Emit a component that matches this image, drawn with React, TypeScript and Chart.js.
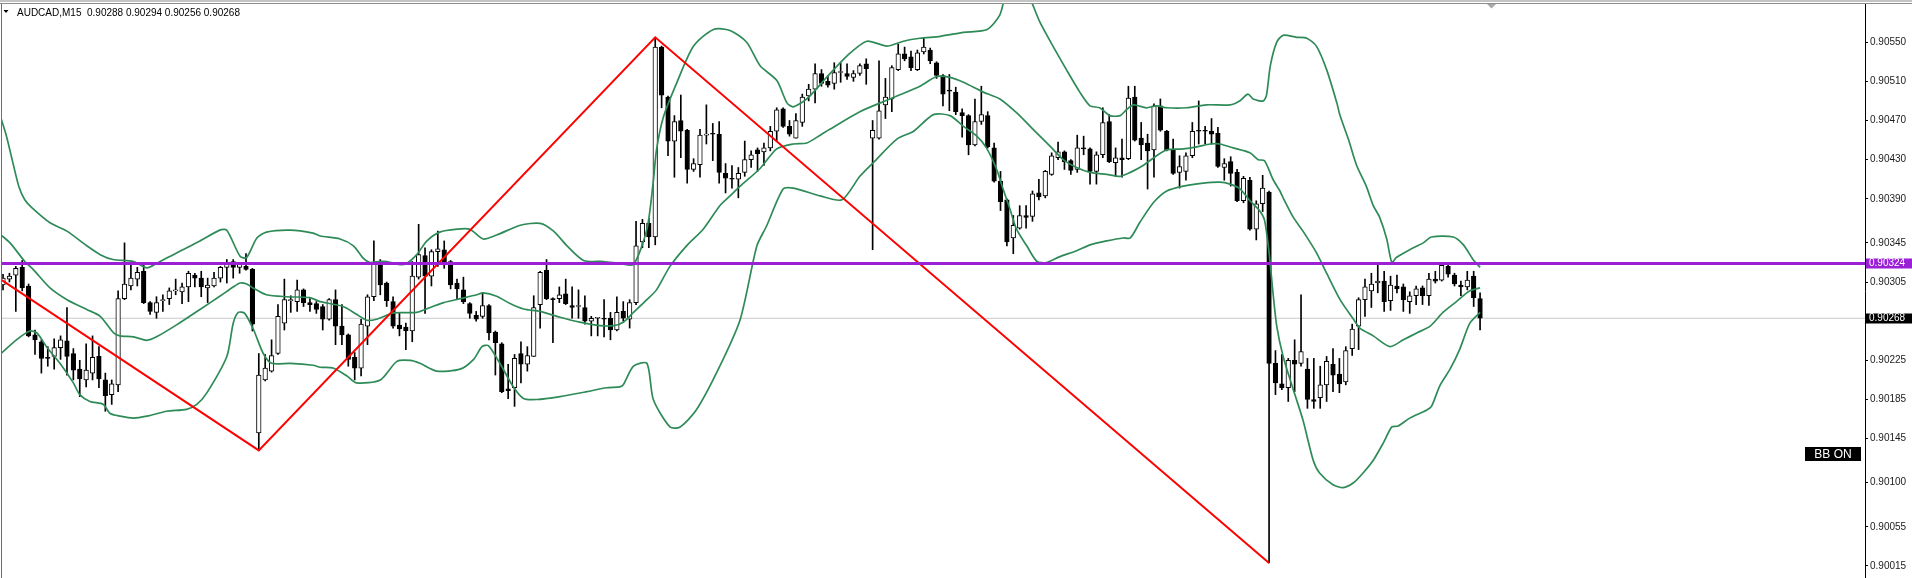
import React, { useEffect, useRef } from 'react';
import { Chart, registerables } from 'chart.js';

Chart.register(...registerables);

const symbolName = 'AUDCAD,M15';

const openPrices = [
0.90302,0.90308,0.90312,0.90320,0.90301,0.90251,0.90244,0.90228,0.90229,0.90238,
0.90245,0.90232,0.90216,0.90205,0.90212,0.90229,0.90205,0.90190,0.90200,0.90288,
0.90301,0.90308,0.90316,0.90284,0.90274,0.90286,0.90288,0.90296,0.90295,0.90300,
0.90312,0.90309,0.90299,0.90301,0.90309,0.90320,0.90326,0.90320,0.90321,0.90318,
0.90151,0.90205,0.90214,0.90232,0.90263,0.90286,0.90285,0.90297,0.90284,0.90283,
0.90280,0.90267,0.90287,0.90260,0.90251,0.90228,0.90217,0.90260,0.90290,0.90323,
0.90304,0.90285,0.90261,0.90259,0.90255,0.90310,0.90332,0.90311,0.90336,0.90338,
0.90326,0.90304,0.90297,0.90283,0.90271,0.90270,0.90281,0.90254,0.90242,0.90196,
0.90197,0.90232,0.90221,0.90229,0.90282,0.90317,0.90288,0.90288,0.90293,0.90281,
0.90280,0.90279,0.90265,0.90268,0.90268,0.90268,0.90256,0.90275,0.90267,0.90284,
0.90346,0.90365,0.90351,0.90545,0.90494,0.90449,0.90470,0.90460,0.90420,0.90425,
0.90455,0.90457,0.90456,0.90416,0.90411,0.90410,0.90417,0.90430,0.90440,0.90438,
0.90442,0.90459,0.90482,0.90464,0.90452,0.90468,0.90495,0.90502,0.90518,0.90510,
0.90508,0.90519,0.90518,0.90514,0.90518,0.90528,0.90452,0.90452,0.90486,0.90492,
0.90522,0.90538,0.90535,0.90522,0.90540,0.90542,0.90529,0.90516,0.90501,0.90499,
0.90478,0.90475,0.90445,0.90469,0.90475,0.90442,0.90408,0.90389,0.90350,0.90360,
0.90373,0.90372,0.90396,0.90393,0.90415,0.90432,0.90438,0.90429,0.90420,0.90442,
0.90441,0.90418,0.90435,0.90469,0.90427,0.90432,0.90431,0.90494,0.90452,0.90447,
0.90440,0.90485,0.90459,0.90440,0.90417,0.90418,0.90434,0.90460,0.90460,0.90459,
0.90457,0.90422,0.90428,0.90417,0.90388,0.90409,0.90359,0.90385,0.90397,0.90222,
0.90201,0.90197,0.90225,0.90222,0.90216,0.90185,0.90187,0.90200,0.90221,0.90211,
0.90203,0.90237,0.90260,0.90287,0.90296,0.90304,0.90306,0.90286,0.90301,0.90300,
0.90285,0.90291,0.90299,0.90291,0.90308,0.90307,0.90321,0.90312,0.90302,0.90300,
0.90311,0.90288];

const highPrices = [
0.90313,0.90314,0.90321,0.90327,0.90303,0.90256,0.90246,0.90239,0.90247,0.90250,
0.90279,0.90237,0.90225,0.90242,0.90250,0.90239,0.90212,0.90205,0.90296,0.90345,
0.90323,0.90320,0.90323,0.90285,0.90290,0.90292,0.90299,0.90308,0.90304,0.90316,
0.90314,0.90316,0.90309,0.90315,0.90321,0.90328,0.90328,0.90325,0.90334,0.90319,
0.90232,0.90231,0.90246,0.90282,0.90308,0.90291,0.90307,0.90298,0.90288,0.90285,
0.90282,0.90288,0.90297,0.90282,0.90252,0.90233,0.90267,0.90292,0.90347,0.90328,
0.90305,0.90290,0.90273,0.90263,0.90326,0.90364,0.90340,0.90338,0.90357,0.90347,
0.90327,0.90308,0.90310,0.90284,0.90275,0.90294,0.90282,0.90255,0.90243,0.90221,
0.90231,0.90244,0.90239,0.90291,0.90316,0.90328,0.90289,0.90300,0.90308,0.90300,
0.90297,0.90291,0.90270,0.90269,0.90287,0.90274,0.90290,0.90285,0.90287,0.90367,
0.90369,0.90370,0.90555,0.90546,0.90495,0.90475,0.90496,0.90461,0.90431,0.90461,
0.90486,0.90467,0.90469,0.90426,0.90424,0.90422,0.90449,0.90439,0.90442,0.90447,
0.90464,0.90483,0.90483,0.90470,0.90477,0.90497,0.90507,0.90528,0.90522,0.90516,
0.90529,0.90529,0.90528,0.90521,0.90528,0.90533,0.90470,0.90531,0.90513,0.90526,
0.90548,0.90545,0.90541,0.90542,0.90554,0.90544,0.90530,0.90517,0.90517,0.90504,
0.90482,0.90476,0.90492,0.90505,0.90479,0.90447,0.90418,0.90390,0.90373,0.90383,
0.90383,0.90398,0.90410,0.90419,0.90437,0.90448,0.90439,0.90430,0.90455,0.90454,
0.90442,0.90438,0.90483,0.90476,0.90442,0.90451,0.90505,0.90505,0.90468,0.90456,
0.90487,0.90492,0.90460,0.90451,0.90434,0.90437,0.90468,0.90490,0.90464,0.90472,
0.90463,0.90431,0.90433,0.90420,0.90413,0.90412,0.90388,0.90414,0.90398,0.90235,
0.90231,0.90227,0.90246,0.90292,0.90227,0.90227,0.90219,0.90229,0.90237,0.90227,
0.90239,0.90262,0.90289,0.90308,0.90314,0.90323,0.90316,0.90311,0.90312,0.90303,
0.90295,0.90301,0.90301,0.90314,0.90316,0.90324,0.90322,0.90314,0.90306,0.90316,
0.90316,0.90294];

const lowPrices = [
0.90297,0.90305,0.90275,0.90296,0.90249,0.90231,0.90212,0.90219,0.90216,0.90226,
0.90210,0.90205,0.90188,0.90198,0.90205,0.90197,0.90173,0.90180,0.90193,0.90287,
0.90297,0.90301,0.90283,0.90272,0.90268,0.90275,0.90282,0.90292,0.90283,0.90285,
0.90300,0.90290,0.90284,0.90300,0.90305,0.90304,0.90309,0.90314,0.90317,0.90255,
0.90133,0.90204,0.90213,0.90231,0.90256,0.90274,0.90275,0.90280,0.90275,0.90273,
0.90256,0.90266,0.90241,0.90241,0.90219,0.90205,0.90209,0.90241,0.90286,0.90292,
0.90280,0.90258,0.90250,0.90236,0.90244,0.90308,0.90273,0.90301,0.90321,0.90319,
0.90298,0.90287,0.90283,0.90268,0.90265,0.90268,0.90246,0.90210,0.90192,0.90186,
0.90178,0.90202,0.90214,0.90229,0.90258,0.90287,0.90243,0.90284,0.90282,0.90268,
0.90268,0.90262,0.90250,0.90250,0.90249,0.90246,0.90255,0.90265,0.90258,0.90282,
0.90340,0.90340,0.90343,0.90483,0.90434,0.90412,0.90432,0.90406,0.90418,0.90412,
0.90446,0.90429,0.90406,0.90396,0.90401,0.90391,0.90413,0.90422,0.90418,0.90424,
0.90439,0.90449,0.90463,0.90454,0.90452,0.90464,0.90490,0.90488,0.90505,0.90504,
0.90502,0.90509,0.90512,0.90510,0.90516,0.90507,0.90338,0.90451,0.90472,0.90479,
0.90521,0.90531,0.90521,0.90521,0.90538,0.90528,0.90513,0.90485,0.90480,0.90476,
0.90453,0.90435,0.90444,0.90466,0.90442,0.90407,0.90378,0.90342,0.90334,0.90359,
0.90360,0.90367,0.90389,0.90391,0.90414,0.90430,0.90420,0.90415,0.90417,0.90435,
0.90405,0.90405,0.90432,0.90427,0.90413,0.90412,0.90430,0.90449,0.90430,0.90400,
0.90412,0.90459,0.90439,0.90415,0.90401,0.90409,0.90432,0.90446,0.90446,0.90446,
0.90422,0.90409,0.90403,0.90387,0.90386,0.90358,0.90348,0.90377,0.90018,0.90190,
0.90195,0.90183,0.90193,0.90219,0.90176,0.90176,0.90176,0.90183,0.90193,0.90192,
0.90200,0.90230,0.90236,0.90270,0.90279,0.90294,0.90275,0.90276,0.90294,0.90275,
0.90273,0.90282,0.90282,0.90281,0.90304,0.90306,0.90310,0.90301,0.90291,0.90297,
0.90280,0.90256];

const closePrices = [
0.90309,0.90311,0.90319,0.90299,0.90250,0.90246,0.90227,0.90227,0.90238,0.90246,
0.90229,0.90215,0.90206,0.90215,0.90228,0.90206,0.90189,0.90201,0.90288,0.90303,
0.90309,0.90315,0.90284,0.90275,0.90284,0.90287,0.90296,0.90297,0.90300,0.90314,
0.90309,0.90300,0.90302,0.90309,0.90320,0.90325,0.90320,0.90323,0.90318,0.90262,
0.90210,0.90217,0.90230,0.90270,0.90287,0.90287,0.90297,0.90284,0.90282,0.90277,
0.90267,0.90287,0.90260,0.90251,0.90226,0.90217,0.90262,0.90290,0.90324,0.90302,
0.90286,0.90260,0.90257,0.90255,0.90311,0.90333,0.90311,0.90336,0.90339,0.90325,
0.90302,0.90298,0.90285,0.90273,0.90267,0.90281,0.90253,0.90243,0.90193,0.90194,
0.90227,0.90221,0.90230,0.90279,0.90315,0.90288,0.90287,0.90292,0.90283,0.90279,
0.90281,0.90265,0.90268,0.90268,0.90267,0.90256,0.90274,0.90268,0.90284,0.90342,
0.90365,0.90351,0.90545,0.90496,0.90449,0.90469,0.90459,0.90420,0.90426,0.90455,
0.90456,0.90456,0.90417,0.90411,0.90410,0.90416,0.90430,0.90435,0.90436,0.90442,
0.90459,0.90481,0.90464,0.90456,0.90470,0.90494,0.90502,0.90518,0.90508,0.90506,
0.90519,0.90519,0.90515,0.90518,0.90526,0.90523,0.90460,0.90480,0.90494,0.90524,
0.90538,0.90533,0.90524,0.90539,0.90545,0.90531,0.90516,0.90497,0.90500,0.90479,
0.90475,0.90445,0.90469,0.90476,0.90443,0.90408,0.90387,0.90346,0.90363,0.90373,
0.90371,0.90395,0.90392,0.90418,0.90434,0.90438,0.90428,0.90419,0.90442,0.90441,
0.90418,0.90435,0.90468,0.90428,0.90432,0.90430,0.90493,0.90450,0.90445,0.90439,
0.90485,0.90460,0.90440,0.90416,0.90423,0.90434,0.90459,0.90459,0.90459,0.90456,
0.90423,0.90426,0.90416,0.90388,0.90411,0.90359,0.90385,0.90401,0.90222,0.90202,
0.90197,0.90225,0.90221,0.90234,0.90185,0.90183,0.90200,0.90224,0.90210,0.90201,
0.90235,0.90257,0.90287,0.90300,0.90303,0.90306,0.90285,0.90302,0.90298,0.90287,
0.90291,0.90298,0.90291,0.90308,0.90306,0.90322,0.90313,0.90303,0.90300,0.90307,
0.90289,0.90268];

// Bollinger band readings: [bar index, price]
const bbUpper = [
[-0.5,0.90476],[0.5,0.90455],[1.5,0.90428],[2.5,0.90402],[3.4,0.90389],[4.5,0.90381],[7.35,0.903655],[10,0.90357],[13.1,0.90342],[15.2,0.90333],[17.2,0.90328],[20.4,0.90326],[22.5,0.903195],[24,0.90324],[27.2,0.90335],[30.8,0.90347],[33.9,0.90358],[35,0.90358],[37.1,0.90331],[38.1,0.9033],[39.7,0.9035],[41.2,0.90356],[44.9,0.90358],[48.5,0.90355],[49.6,0.90352],[52.7,0.90349],[54.8,0.90342],[56.4,0.90329],[57.4,0.90325],[58.7,0.90326],[60,0.90326],[61.8,0.90323],[63.1,0.90324],[64.7,0.90333],[66.3,0.90347],[68.3,0.90356],[71,0.90359],[73,0.90359],[75.1,0.90349],[77.2,0.90353],[80.9,0.90363],[84,0.90365],[86.1,0.90357],[88.2,0.90342],[90.8,0.90327],[93.9,0.90326],[96.5,0.90324],[98.6,0.90323],[100.7,0.90359],[101.7,0.90408],[102.2,0.9044],[103.3,0.90474],[105.4,0.90509],[108,0.90546],[111.1,0.90563],[113.7,0.90562],[116.3,0.9055],[118.4,0.90526],[121,0.90511],[122.6,0.90488],[123.6,0.90484],[125.7,0.90492],[128.8,0.90514],[132,0.90536],[135.1,0.90551],[138.2,0.90546],[140.8,0.90551],[143.4,0.90554],[146.6,0.90556],[150.2,0.9056],[153.9,0.90563],[155.9,0.90578],[157.2,0.90605],[159.7,0.90605],[162.2,0.9057],[164.2,0.90546],[166.3,0.90522],[168.4,0.90499],[170,0.90485],[171.5,0.90483],[173.1,0.90475],[174.7,0.90475],[175.7,0.90481],[176.8,0.90486],[178.8,0.90483],[180.4,0.90485],[182,0.90483],[185.1,0.90483],[188.2,0.90486],[191.9,0.90486],[193.4,0.9049],[194.7,0.90497],[195.5,0.90492],[197.1,0.9049],[197.6,0.90496],[198.2,0.90526],[199.2,0.9055],[200.2,0.90557],[202.3,0.90555],[203.9,0.90554],[205.4,0.90546],[207,0.90522],[208.6,0.90488],[209.1,0.90475],[210.4,0.90451],[211.7,0.90424],[213.2,0.90403],[214.3,0.90383],[215.3,0.90371],[216.4,0.90349],[217.2,0.90325],[217.9,0.9033],[220,0.90338],[222.1,0.90345],[223.4,0.90351],[226.8,0.90351],[228.4,0.90343],[229.9,0.90328],[231,0.9032]];

const bbMiddle = [
[-0.5,0.90354],[1.1,0.90345],[3.4,0.90326],[4.7,0.90318],[7.35,0.90299],[10,0.90287],[13.1,0.90277],[15.2,0.9027],[17.3,0.90253],[18.3,0.9025],[20.4,0.90249],[22.5,0.902455],[24,0.90249],[27.2,0.902615],[30.8,0.90277],[33.9,0.902905],[36,0.903],[37.1,0.90304],[38.1,0.90303],[39.1,0.90299],[41.2,0.90292],[44.4,0.9029],[48,0.90289],[49.6,0.90285],[53.2,0.9028],[55.3,0.90272],[56.9,0.90266],[58.4,0.90267],[61.1,0.902735],[64.7,0.90274],[66.8,0.90279],[68.9,0.90284],[71.5,0.90288],[74.1,0.90292],[75.1,0.90294],[77.2,0.902905],[79.3,0.90283],[81.4,0.902775],[84,0.90275],[87.1,0.90269],[90.2,0.90264],[93.4,0.902605],[95.5,0.902605],[97,0.90264],[98.6,0.90274],[100.7,0.90287],[102.2,0.90297],[104.3,0.90321],[106.9,0.90342],[109.5,0.90359],[112.1,0.90383],[113.7,0.90393],[115.3,0.90403],[118.4,0.90421],[121,0.90441],[123.6,0.90446],[125.7,0.90447],[127.8,0.90455],[129.3,0.90461],[134,0.90479],[138.7,0.90492],[139.8,0.90495],[143.4,0.90505],[146,0.90515],[148.1,0.90514],[150.2,0.90509],[153.3,0.90499],[155.9,0.90492],[158.5,0.90478],[161.1,0.90461],[163.7,0.90444],[165.8,0.9043],[167.9,0.90422],[170,0.90417],[172.6,0.90415],[174.7,0.90413],[176.3,0.90417],[178.3,0.90424],[180.4,0.90434],[182,0.9044],[184.6,0.90441],[186.7,0.90443],[188.8,0.90446],[190.3,0.90446],[192.4,0.90442],[195,0.90437],[196.3,0.9043],[197.3,0.90429],[198.6,0.9041],[199.7,0.90398],[200.2,0.90391],[201.8,0.90371],[203.3,0.90357],[205.4,0.90335],[207,0.90314],[209.1,0.90287],[211.2,0.90267],[212.2,0.90258],[214.3,0.9025],[216.9,0.90239],[219,0.90246],[221.1,0.90253],[223.2,0.9026],[225.2,0.90274],[227.3,0.90285],[229.4,0.90296],[231,0.90299]];

const bbLower = [
[-0.5,0.90231],[2.1,0.90246],[4.2,0.90255],[5.3,0.90253],[6.8,0.90239],[8.9,0.90222],[11,0.90202],[12,0.9019],[13.6,0.90183],[15.7,0.9018],[16.7,0.90171],[18.3,0.90168],[20.4,0.90166],[22.5,0.90168],[25.6,0.90173],[28.7,0.90175],[30.3,0.9018],[31.9,0.90192],[35,0.90229],[36,0.90263],[36.8,0.90274],[37.8,0.90273],[39.2,0.90256],[40.7,0.90232],[42,0.90222],[44.9,0.90222],[48.5,0.9022],[49.6,0.90218],[51.7,0.90217],[53.8,0.90209],[55.3,0.90202],[59,0.90205],[61.6,0.90224],[63.7,0.90225],[65.2,0.90222],[67.8,0.90214],[71.5,0.90216],[73.6,0.90226],[74.9,0.90239],[75.9,0.9024],[77.7,0.90222],[79.8,0.90198],[81.4,0.90186],[83.5,0.90185],[87.1,0.90188],[91.3,0.90193],[94.4,0.90197],[96.5,0.90198],[97,0.902],[98.6,0.90219],[100.7,0.90222],[101.7,0.90185],[104.3,0.90157],[105.9,0.90157],[108.5,0.90175],[112.1,0.90219],[115.3,0.90267],[117.9,0.90342],[119.4,0.90362],[122,0.904],[123.6,0.90401],[127.8,0.90393],[131.2,0.90389],[134,0.90413],[136.1,0.90427],[139.8,0.90451],[142.4,0.90459],[145.5,0.90476],[148.1,0.90475],[150.2,0.90464],[152.3,0.90454],[153.8,0.90442],[155.4,0.9042],[156.4,0.904],[157.5,0.90379],[158.5,0.90359],[160.1,0.90342],[161.7,0.90326],[163.2,0.90325],[165.3,0.90331],[167.9,0.90337],[170,0.90343],[172.6,0.90347],[175.2,0.9035],[176.3,0.9035],[177.8,0.90366],[179.9,0.90386],[182,0.90398],[184.6,0.90403],[187.7,0.90406],[190.3,0.90407],[191.9,0.90405],[193.5,0.904],[195,0.90388],[196.5,0.90378],[197.3,0.90368],[198,0.90335],[198.6,0.90295],[199.2,0.9026],[200.2,0.90229],[201.8,0.90195],[203.3,0.90164],[204.9,0.90123],[205.9,0.9011],[208,0.90098],[209.6,0.90095],[211.2,0.901],[212.7,0.9011],[214.3,0.90123],[215.9,0.90141],[217.2,0.90157],[218.2,0.90158],[220,0.90166],[222.6,0.90174],[223.4,0.90178],[224.7,0.90199],[226.3,0.90216],[227.8,0.90236],[229.4,0.90263],[231,0.90274]];

const zigzagPoints = [[-0.2, 0.90307], [40, 0.90133], [102, 0.90555], [198, 0.90018]];

const levelPrice = 0.90324;
const bidPrice = 0.90268;
const priceTicks = [0.90015, 0.90055, 0.90100, 0.90145, 0.90185, 0.90225, 0.90305, 0.90345, 0.90390, 0.90430, 0.90470, 0.90510, 0.90550];
const indicatorLabel = 'BB ON';

const X_MIN = -0.16;
const X_MAX = 291.2;
const Y_MIN = 0.900027;
const Y_MAX = 0.90589;

const PURPLE = '#9a1fd6';
const GREEN = '#2e8b57';
const FONT = '"Liberation Sans", Arial, sans-serif';

const fmt = (v: number) => v.toFixed(5);

export default function App() {
  const ref = useRef<HTMLCanvasElement>(null);

  useEffect(() => {
    const canvas = ref.current;
    if (!canvas) return;
    const idx = openPrices.map((_, i) => i);
    const toXY = (pts: number[][]) => pts.map(([x, y]) => ({ x, y }));

    const decor = {
      id: 'mtDecor',
      beforeDraw(chart: any) {
        const ctx = chart.ctx;
        ctx.save();
        ctx.fillStyle = '#ffffff';
        ctx.fillRect(0, 0, chart.width, chart.height);
        ctx.restore();
      },
      afterDraw(chart: any) {
        const ctx = chart.ctx;
        const ys = chart.scales.y;
        ctx.save();
        // window frame
        ctx.fillStyle = '#c4c4c4';
        ctx.fillRect(0, 0, chart.width, 2);
        ctx.fillStyle = '#8c8c8c';
        ctx.fillRect(0, 3, chart.width, 1);
        ctx.fillStyle = '#6e6e6e';
        ctx.fillRect(1, 4, 1, chart.height - 4);
        // shift marker
        ctx.fillStyle = '#a8a8a8';
        ctx.beginPath();
        ctx.moveTo(1487, 4);
        ctx.lineTo(1496, 4);
        ctx.lineTo(1491.5, 8.5);
        ctx.closePath();
        ctx.fill();
        // title
        ctx.fillStyle = '#000000';
        ctx.beginPath();
        ctx.moveTo(3.5, 10);
        ctx.lineTo(8.5, 10);
        ctx.lineTo(6, 13);
        ctx.closePath();
        ctx.fill();
        ctx.font = '10px ' + FONT;
        ctx.textAlign = 'left';
        ctx.textBaseline = 'alphabetic';
        const last = closePrices.length - 1;
        ctx.fillText(
          `${symbolName}  ${fmt(openPrices[last])} ${fmt(highPrices[last])} ${fmt(lowPrices[last])} ${fmt(closePrices[last])}`,
          17, 16);
        // price tags on axis
        const tag = (price: number, bg: string) => {
          const y = Math.round(ys.getPixelForValue(price));
          ctx.fillStyle = bg;
          ctx.fillRect(1866, y - 4.5, 46, 10);
          ctx.fillStyle = '#ffffff';
          ctx.font = '10px ' + FONT;
          ctx.textBaseline = 'middle';
          ctx.textAlign = 'left';
          ctx.fillText(fmt(price), 1869, y + 0.5);
        };
        tag(levelPrice, PURPLE);
        tag(bidPrice, '#000000');
        // indicator label
        ctx.fillStyle = '#000000';
        ctx.fillRect(1805, 447, 56, 14);
        ctx.fillStyle = '#ffffff';
        ctx.font = '12px ' + FONT;
        ctx.textAlign = 'center';
        ctx.textBaseline = 'middle';
        ctx.fillText(indicatorLabel, 1833, 454.5);
        ctx.restore();
      },
    };

    const lineBase = {
      type: 'line' as const,
      pointRadius: 0,
      fill: false,
      tension: 0.25,
    };

    const chart = new Chart(canvas, {
      type: 'bar',
      data: {
        datasets: [
          {
            ...lineBase,
            label: 'level',
            data: [{ x: X_MIN, y: levelPrice }, { x: X_MAX, y: levelPrice }],
            borderColor: PURPLE,
            borderWidth: 3,
            tension: 0,
            order: 1,
          },
          {
            ...lineBase,
            label: 'zigzag',
            data: toXY(zigzagPoints),
            borderColor: '#ff0000',
            borderWidth: 2,
            tension: 0,
            order: 2,
          },
          {
            ...lineBase,
            label: 'bbUpper',
            data: toXY(bbUpper),
            borderColor: GREEN,
            borderWidth: 1.7,
            order: 3,
          },
          {
            ...lineBase,
            label: 'bbMiddle',
            data: toXY(bbMiddle),
            borderColor: GREEN,
            borderWidth: 1.7,
            order: 3,
          },
          {
            ...lineBase,
            label: 'bbLower',
            data: toXY(bbLower),
            borderColor: GREEN,
            borderWidth: 1.7,
            order: 3,
          },
          {
            type: 'bar',
            label: 'body',
            data: idx.map((i) => ({ x: i, y: [openPrices[i], closePrices[i]] })),
            backgroundColor: (c: any) => {
              const i = c.dataIndex;
              if (i === undefined) return '#000000';
              return closePrices[i] >= openPrices[i] ? '#ffffff' : '#000000';
            },
            borderColor: '#000000',
            borderWidth: 1,
            borderSkipped: false,
            barThickness: 4.6,
            minBarLength: 1,
            grouped: false,
            order: 5,
          },
          {
            type: 'bar',
            label: 'wick',
            data: idx.map((i) => ({ x: i, y: [lowPrices[i], highPrices[i]] })),
            backgroundColor: '#000000',
            borderWidth: 0,
            barThickness: 1,
            grouped: false,
            order: 6,
          },
          {
            ...lineBase,
            label: 'bid',
            data: [{ x: X_MIN, y: bidPrice }, { x: X_MAX, y: bidPrice }],
            borderColor: '#c8c8c8',
            borderWidth: 1,
            tension: 0,
            order: 7,
          },
        ] as any,
      },
      options: {
        animation: false,
        responsive: false,
        devicePixelRatio: 1,
        events: [],
        layout: { padding: { left: 2, top: 4, right: 0, bottom: 0 } },
        plugins: { legend: { display: false }, tooltip: { enabled: false }, title: { display: false } },
        scales: {
          x: {
            type: 'linear',
            min: X_MIN,
            max: X_MAX,
            offset: false,
            display: false,
            grid: { offset: false },
          },
          y: {
            type: 'linear',
            position: 'right',
            min: Y_MIN,
            max: Y_MAX,
            beginAtZero: false,
            afterBuildTicks: (scale: any) => {
              scale.ticks = priceTicks.map((v) => ({ value: v }));
            },
            afterFit: (scale: any) => {
              scale.width = 47;
              scale.paddingTop = 0;
              scale.paddingBottom = 0;
              scale.paddingLeft = 0;
              scale.paddingRight = 0;
            },
            ticks: {
              autoSkip: false,
              padding: 2,
              color: '#1a1a1a',
              font: { family: FONT, size: 10 },
              callback: (v: any) => Number(v).toFixed(5),
            },
            grid: {
              display: true,
              drawOnChartArea: false,
              drawTicks: true,
              tickLength: 3,
              tickColor: '#000000',
            },
            border: { display: true, color: '#000000', width: 1 },
          },
        },
      } as any,
      plugins: [decor],
    });

    return () => chart.destroy();
  }, []);

  return (
    <div style={{ position: 'absolute', left: 0, top: 0, width: 1912, height: 578, background: '#ffffff' }}>
      <canvas ref={ref} width={1912} height={578} style={{ display: 'block' }} />
    </div>
  );
}
